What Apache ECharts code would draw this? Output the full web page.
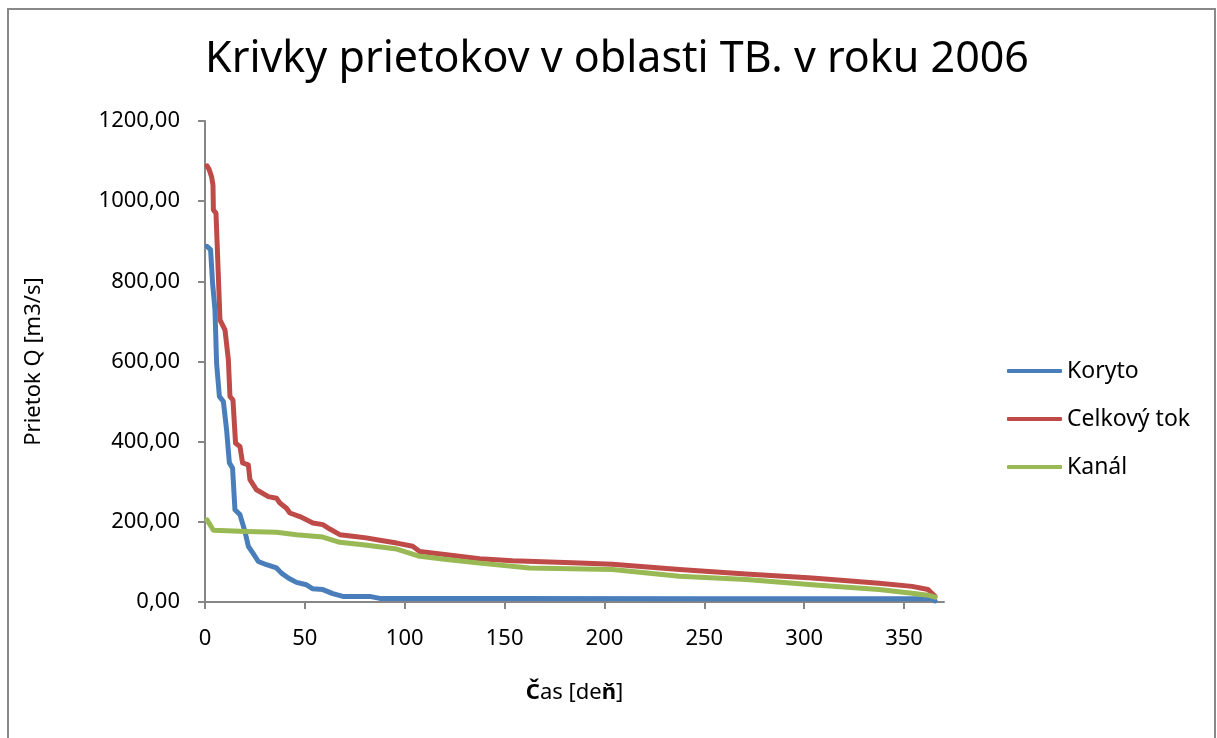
<!DOCTYPE html>
<html lang="sk">
<head>
    <meta charset="UTF-8">
    <title>Krivky prietokov</title>
    <script type="text/javascript" src="https://cdn.jsdelivr.net/npm/echarts@6/dist/echarts.min.js"></script>
    <style>
        html, body { margin: 0; padding: 0; background: #fff; }
    </style>
</head>
<body>
    <div id="main" style="width: 1217px;height:738px;"></div>
    <script type="text/javascript">
        // hodnoty odcitane z grafu (den, prietok)
        var korytoDni = [1, 2.8, 3.8, 5, 5.8, 7.2, 9.2, 10.8, 12.2, 13.8, 15, 17.5, 20, 21.7, 24, 26.7, 30.8, 35.8, 38.3, 41.7, 45.8, 50.8, 54, 59, 64, 69, 82.5, 87.5, 150, 250, 364, 365.5];
        var korytoQ = [887, 879, 795, 729, 596, 513, 500, 430, 347, 334, 230, 218, 176, 139, 122, 101, 93, 85, 72, 60, 49, 43, 33, 31, 21, 14, 14, 9, 9, 8, 8, 3];

        var celkovyDni = [1, 2, 3.3, 4, 4.2, 5.5, 6.7, 7.5, 10, 11.7, 12.5, 14, 15.3, 17.5, 18.8, 21.7, 22.5, 25.8, 31.7, 35.8, 37.5, 40.8, 42.5, 47.5, 50.8, 54, 59, 62.5, 67.5, 74, 80.8, 87.5, 96, 104, 107.5, 121, 137.5, 154, 187.5, 204, 237.5, 270.8, 304, 337.5, 354, 362, 365.5];
        var celkovyQ = [1088, 1080, 1061, 1040, 978, 970, 812, 704, 679, 604, 513, 504, 396, 388, 347, 342, 305, 280, 263, 259, 247, 234, 222, 213, 205, 197, 193, 182, 168, 164, 160, 154, 147, 139, 126, 118, 108, 103, 97, 94, 81, 70, 60, 47, 39, 31, 14];

        var kanalDni = [1, 4.2, 21, 35.8, 45.8, 59, 67.5, 79, 96, 107.5, 121, 137.5, 162.5, 204, 237.5, 271, 304, 337.5, 354, 362, 365.5];
        var kanalQ = [205, 179, 176, 174, 168, 162, 149, 143, 132, 114, 106, 97, 85, 81, 64, 56, 43, 31, 22, 17, 12];

        var xTicks = [0, 50, 100, 150, 200, 250, 300, 350];
        var nazvy = ['Koryto', 'Celkový tok', 'Kanál'];

        function spoj(dni, q) {
            var out = [];
            for (var i = 0; i < dni.length; i++) {
                out.push([dni[i], q[i]]);
            }
            return out;
        }

        var chart = echarts.init(document.getElementById('main'));
        var siva = '#868686';
        var font = 'Noto Sans, sans-serif';

        chart.setOption({
            animation: false,
            backgroundColor: '#fff',
            color: ['#4a7ebb', '#be4b48', '#98b954'],
            title: {
                text: 'Krivky prietokov v oblasti TB. v roku 2006',
                left: 612,
                textAlign: 'center',
                top: 33,
                textStyle: {
                    fontFamily: font,
                    fontWeight: 'normal',
                    fontSize: 43,
                    color: '#000'
                }
            },
            graphic: [{
                type: 'rect',
                shape: { x: 8, y: 9, width: 1207, height: 800 },
                style: { fill: 'none', stroke: '#898989', lineWidth: 2 },
                silent: true
            }],
            legend: {
                orient: 'vertical',
                left: 1002,
                top: 353,
                icon: 'roundRect',
                itemWidth: 55,
                itemHeight: 4,
                itemGap: 22,
                data: nazvy,
                textStyle: {
                    fontFamily: font,
                    fontSize: 23,
                    lineHeight: 26,
                    color: '#000'
                }
            },
            grid: {
                left: 205,
                right: 273,
                top: 121,
                bottom: 136
            },
            xAxis: {
                type: 'value',
                min: 0,
                max: 370,
                interval: 50,
                name: '{b|Č}as [de{b|ň}]',
                nameLocation: 'middle',
                nameGap: 80,
                nameTextStyle: {
                    fontFamily: font,
                    fontSize: 22,
                    color: '#000',
                    rich: {
                        b: { fontFamily: font, fontSize: 22, fontWeight: 'bold', color: '#000' }
                    }
                },
                axisLine: { lineStyle: { color: siva, width: 2 } },
                axisTick: { show: true, length: 7, lineStyle: { color: siva, width: 2 }, customValues: xTicks },
                splitLine: { show: false },
                axisLabel: {
                    customValues: xTicks,
                    margin: 26,
                    fontFamily: font,
                    fontSize: 22,
                    color: '#000'
                }
            },
            yAxis: {
                type: 'value',
                min: 0,
                max: 1200,
                interval: 200,
                name: 'Prietok Q [m3/s]',
                nameLocation: 'middle',
                nameGap: 160,
                nameTextStyle: {
                    fontFamily: font,
                    fontSize: 22,
                    color: '#000'
                },
                axisLine: { show: true, lineStyle: { color: siva, width: 2 } },
                axisTick: { show: true, length: 7, lineStyle: { color: siva, width: 2 } },
                splitLine: { show: false },
                axisLabel: {
                    margin: 25,
                    fontFamily: font,
                    fontSize: 22,
                    color: '#000',
                    formatter: function (v) {
                        return v.toFixed(2).replace('.', ',');
                    }
                }
            },
            series: [{
                name: nazvy[0],
                type: 'line',
                showSymbol: false,
                data: spoj(korytoDni, korytoQ),
                lineStyle: { width: 5, cap: 'round', join: 'round' },
                z: 3
            }, {
                name: nazvy[1],
                type: 'line',
                showSymbol: false,
                data: spoj(celkovyDni, celkovyQ),
                lineStyle: { width: 5, cap: 'round', join: 'round' },
                z: 2
            }, {
                name: nazvy[2],
                type: 'line',
                showSymbol: false,
                data: spoj(kanalDni, kanalQ),
                lineStyle: { width: 5, cap: 'round', join: 'round' },
                z: 4
            }]
        });
    </script>
</body>
</html>
